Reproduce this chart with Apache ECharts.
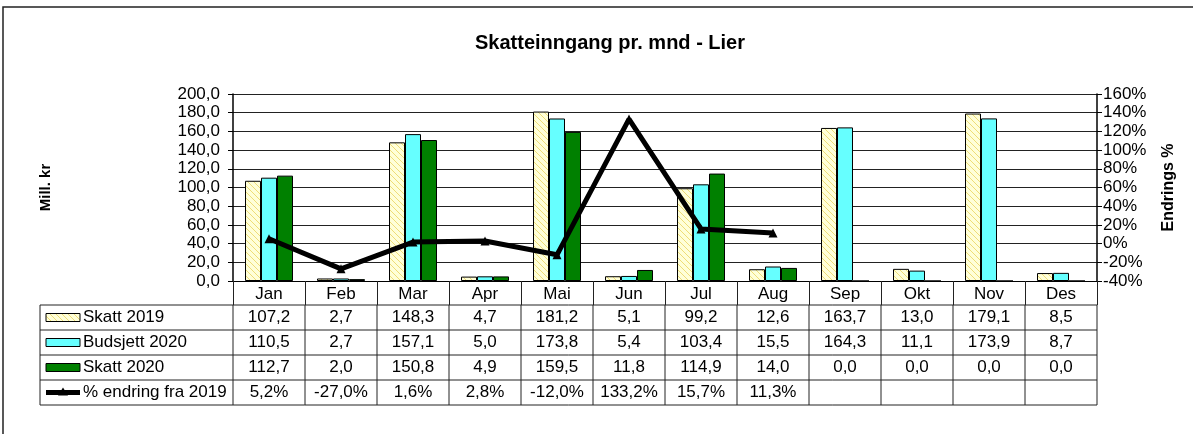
<!doctype html>
<html>
<head>
<meta charset="UTF-8">
<title>Skatteinngang pr. mnd - Lier</title>
<script src="https://cdn.jsdelivr.net/npm/echarts@6/dist/echarts.min.js"></script>
<style>
  html, body { margin: 0; padding: 0; background: #fff; }
  #main { width: 1193px; height: 434px; }
</style>
</head>
<body>
<div id="main"></div>
<script>
// data
var months = ['Jan', 'Feb', 'Mar', 'Apr', 'Mai', 'Jun', 'Jul', 'Aug', 'Sep', 'Okt', 'Nov', 'Des'];
var skatt2019 = [107.2, 2.7, 148.3, 4.7, 181.2, 5.1, 99.2, 12.6, 163.7, 13.0, 179.1, 8.5];
var budsjett2020 = [110.5, 2.7, 157.1, 5.0, 173.8, 5.4, 103.4, 15.5, 164.3, 11.1, 173.9, 8.7];
var skatt2020 = [112.7, 2.0, 150.8, 4.9, 159.5, 11.8, 114.9, 14.0, 0.0, 0.0, 0.0, 0.0];
var endring = [5.2, -27.0, 1.6, 2.8, -12.0, 133.2, 15.7, 11.3, null, null, null, null];
var leftTicks = { min: 0, max: 200, step: 20 };
var rightTicks = { min: -40, max: 160, step: 20 };

var FONT = 'Arial, "Liberation Sans", sans-serif';
var FS = 17;

// plot area
var G = { left: 233, right: 96, top: 94, bottom: 153 };
var plotW = 1193 - G.left - G.right;
var colW = plotW / months.length;

// hatch pattern for Skatt 2019
var pat = document.createElement('canvas');
pat.width = 6; pat.height = 6;
var pc = pat.getContext('2d');
pc.fillStyle = '#ffffd8';
pc.fillRect(0, 0, 6, 6);
pc.strokeStyle = '#eedd77';
pc.lineWidth = 1;
pc.beginPath();
pc.moveTo(0, 0); pc.lineTo(6, 6);
pc.moveTo(-3, 3); pc.lineTo(3, 9);
pc.moveTo(3, -3); pc.lineTo(9, 3);
pc.stroke();

function fmt1(v) { return v.toFixed(1).replace('.', ','); }

// data table (built from arrays)
var rowY = [305, 330, 355, 380, 405];
var rows = [
  { name: 'Skatt 2019', vals: skatt2019, key: 'hatch' },
  { name: 'Budsjett 2020', vals: budsjett2020, key: '#66ffff' },
  { name: 'Skatt 2020', vals: skatt2020, key: '#008000' },
  { name: '% endring fra 2019', vals: endring, key: 'line' }
];
var graphics = [];
var tableLeft = 40, tableRight = G.left + plotW;
rowY.forEach(function (y) {
  graphics.push({ type: 'line', shape: { x1: tableLeft, y1: y, x2: tableRight, y2: y },
    style: { stroke: '#222', lineWidth: 1 } });
});
graphics.push({ type: 'line', shape: { x1: tableLeft, y1: rowY[0], x2: tableLeft, y2: rowY[4] },
  style: { stroke: '#222', lineWidth: 1 } });
for (var c = 0; c <= months.length; c++) {
  var x = G.left + c * colW;
  graphics.push({ type: 'line', shape: { x1: x, y1: rowY[0], x2: x, y2: rowY[4] },
    style: { stroke: '#222', lineWidth: 1 } });
}
rows.forEach(function (r, i) {
  var cy = (rowY[i] + rowY[i + 1]) / 2;
  if (r.key === 'line') {
    graphics.push({ type: 'line', shape: { x1: 46, y1: cy, x2: 80, y2: cy },
      style: { stroke: '#000', lineWidth: 5 } });
    graphics.push({ type: 'polygon', shape: { points: [[63, cy - 5], [58, cy + 3], [68, cy + 3]] },
      style: { fill: '#000' } });
  } else {
    graphics.push({ type: 'rect', shape: { x: 46, y: cy - 4, width: 34, height: 8 },
      style: { fill: r.key === 'hatch' ? { image: pat, repeat: 'repeat' } : r.key, stroke: '#000', lineWidth: 1 } });
  }
  graphics.push({ type: 'text', x: 83, y: cy, style: { text: r.name, font: FS + 'px ' + FONT,
    fill: '#000', textVerticalAlign: 'middle', verticalAlign: 'middle' } });
  r.vals.forEach(function (v, j) {
    if (v === null) return;
    var t = r.key === 'line' ? fmt1(v) + '%' : fmt1(v);
    graphics.push({ type: 'text', x: G.left + (j + 0.5) * colW, y: cy,
      style: { text: t, font: FS + 'px ' + FONT, fill: '#000', align: 'center', verticalAlign: 'middle',
        textAlign: 'center', textVerticalAlign: 'middle' } });
  });
});
// outer frame
graphics.push({ type: 'rect', shape: { x: 3, y: 7, width: 1300, height: 500 },
  style: { fill: 'none', stroke: '#222', lineWidth: 1.5 }, z: 100 });

var myChart = echarts.init(document.getElementById('main'));
var option = {
  animation: false,
  textStyle: { fontFamily: FONT },
  title: {
    text: 'Skatteinngang pr. mnd - Lier',
    left: 470, top: 28,
    textStyle: { fontSize: 20, fontWeight: 'bold', color: '#000', fontFamily: FONT }
  },
  grid: { left: G.left, right: G.right, top: G.top, bottom: G.bottom },
  xAxis: {
    type: 'category',
    data: months,
    axisLine: { lineStyle: { color: '#000', width: 1 } },
    axisTick: { show: true, length: 24, interval: 0, lineStyle: { color: '#222' } },
    axisLabel: { color: '#000', fontSize: FS, margin: 5, interval: 0 }
  },
  yAxis: [{
    type: 'value',
    min: leftTicks.min, max: leftTicks.max, interval: leftTicks.step,
    name: 'Mill. kr', nameLocation: 'middle', nameRotate: 90, nameGap: 180,
    nameTextStyle: { fontSize: 15, fontWeight: 'bold', color: '#000' },
    axisLine: { show: true, lineStyle: { color: '#000', width: 1.5 } },
    axisTick: { show: true, length: 5, lineStyle: { color: '#000' } },
    axisLabel: { color: '#000', fontSize: FS, margin: 13, formatter: function (v) { return fmt1(v); } },
    splitLine: { show: true, lineStyle: { color: '#222', width: 1 } }
  }, {
    type: 'value',
    min: rightTicks.min, max: rightTicks.max, interval: rightTicks.step,
    name: 'Endrings %', nameLocation: 'middle', nameRotate: 90, nameGap: 64,
    nameTextStyle: { fontSize: 16, fontWeight: 'bold', color: '#000' },
    axisLine: { show: true, lineStyle: { color: '#000', width: 1.5 } },
    axisTick: { show: true, length: 5, lineStyle: { color: '#000' } },
    axisLabel: { color: '#000', fontSize: FS, margin: 6, formatter: '{value}%' },
    splitLine: { show: false }
  }],
  series: [{
    name: 'Skatt 2019', type: 'bar', data: skatt2019, barWidth: 16, barGap: '0%',
    itemStyle: { color: { image: pat, repeat: 'repeat' }, borderColor: '#000', borderWidth: 1 }
  }, {
    name: 'Budsjett 2020', type: 'bar', data: budsjett2020, barWidth: 16, barGap: '0%',
    itemStyle: { color: '#66ffff', borderColor: '#000', borderWidth: 1 }
  }, {
    name: 'Skatt 2020', type: 'bar', data: skatt2020, barWidth: 16, barGap: '0%',
    itemStyle: { color: '#008000', borderColor: '#000', borderWidth: 1 }
  }, {
    name: '% endring fra 2019', type: 'line', yAxisIndex: 1, data: endring,
    symbol: 'triangle', symbolSize: 9, showSymbol: true, z: 5,
    lineStyle: { color: '#000', width: 5 },
    itemStyle: { color: '#000' }
  }],
  graphic: graphics
};
myChart.setOption(option);
</script>
</body>
</html>
